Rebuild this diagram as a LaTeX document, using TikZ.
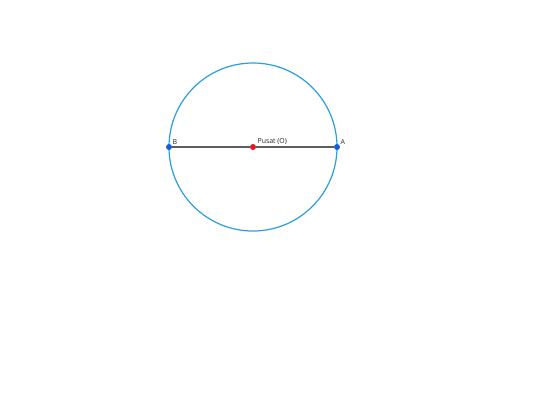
\documentclass[tikz,border=0pt]{standalone}
\usepackage{fontspec}
\setsansfont{Open Sans}
\usepackage{tikz}
\definecolor{ringblue}{HTML}{2A9FDC}
\definecolor{dotblue}{HTML}{1560D8}
\definecolor{dotred}{HTML}{E01B1B}
\definecolor{linegray}{HTML}{5E5E5E}
\begin{document}
\begin{tikzpicture}
[x=0.75pt,y=-0.75pt,
%%%%%%%%%%%%%%%%%%%%%%%%%%%%%%
dot/.style={circle,inner sep=0pt,minimum size=4.5pt},
lbl/.style={font=\sffamily\fontsize{5.2}{6}\selectfont,text=black!85,inner sep=1pt},
]%%%%%%%%%%%%%%%%%%%%%%%%%%%%%%
\useasboundingbox (0,0) rectangle (540,405);
\draw[ringblue,line width=0.9pt] (253,147) circle (84);
\node[dot,fill=dotblue] (B) at (169,147){};
\node[dot,fill=dotblue] (A) at (337,147){};
\node[dot,fill=dotred] (O) at (253,147){};
\draw[linegray,line width=0.9pt] (B) -- (O) -- (A);
\node[lbl,anchor=south west] at (171,146){B};
\node[lbl,anchor=south west] at (256,146){Pusat (O)};
\node[lbl,anchor=south west] at (339,146){A};
\end{tikzpicture}
\end{document}
